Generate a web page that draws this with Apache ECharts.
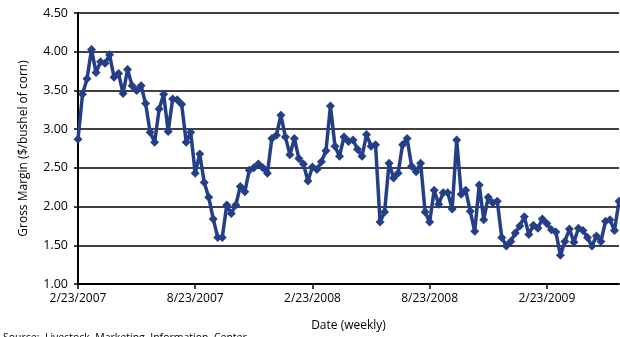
<!DOCTYPE html>
<html>
<head>
<meta charset="utf-8">
<script src="https://cdn.jsdelivr.net/npm/echarts@6/dist/echarts.min.js"></script>
<style>
  html, body { margin: 0; padding: 0; background: #fff; }
  #chart { width: 620px; height: 337px; }
</style>
</head>
<body>
<div id="chart"></div>
<script>
// Weekly gross margin, $/bushel of corn, starting 2/23/2007
const startDate = new Date(2007, 1, 23);
const weekCount = 121;

const grossMargin = [
  2.87, 3.45, 3.65, 4.03, 3.73, 3.87, 3.85, 3.96, 3.67, 3.72,
  3.46, 3.77, 3.56, 3.50, 3.56, 3.33, 2.96, 2.83, 3.26, 3.45,
  2.97, 3.39, 3.38, 3.32, 2.83, 2.96, 2.43, 2.68, 2.31, 2.12,
  1.84, 1.60, 1.60, 2.02, 1.91, 2.02, 2.26, 2.19, 2.47, 2.50,
  2.55, 2.50, 2.43, 2.88, 2.92, 3.18, 2.90, 2.67, 2.88, 2.62,
  2.55, 2.33, 2.51, 2.48, 2.58, 2.72, 3.30, 2.78, 2.65, 2.90,
  2.84, 2.86, 2.74, 2.65, 2.93, 2.78, 2.80, 1.80, 1.93, 2.56,
  2.37, 2.43, 2.80, 2.88, 2.52, 2.45, 2.56, 1.93, 1.80, 2.21,
  2.03, 2.18, 2.18, 1.97, 2.86, 2.16, 2.21, 1.94, 1.68, 2.28,
  1.83, 2.12, 2.05, 2.07, 1.60, 1.49, 1.55, 1.66, 1.75, 1.87,
  1.64, 1.76, 1.72, 1.84, 1.78, 1.70, 1.67, 1.37, 1.55, 1.71,
  1.54, 1.72, 1.69, 1.60, 1.49, 1.62, 1.55, 1.81, 1.83, 1.69,
  2.07
];

// Date labels shown every 26 weeks along the bottom axis
const tickLabels = ['2/23/2007', '8/23/2007', '2/23/2008', '8/23/2008', '2/23/2009'];
const labelStep = 26;

// Category list: one entry per week
const weeks = [];
for (let i = 0; i < weekCount; i++) {
  const d = new Date(startDate.getTime() + i * 7 * 86400000);
  weeks.push((d.getMonth() + 1) + '/' + d.getDate() + '/' + d.getFullYear());
}

const fontFamily = '"Open Sans", "Noto Sans", sans-serif';
const lineColor = '#243F87';

const chart = echarts.init(document.getElementById('chart'), null, { renderer: 'canvas' });

chart.setOption({
  animation: false,
  backgroundColor: '#ffffff',
  grid: { left: 78, right: 1, top: 13, bottom: 51, containLabel: false },
  xAxis: {
    type: 'category',
    data: weeks,
    boundaryGap: false,
    name: 'Date (weekly)',
    nameLocation: 'middle',
    nameGap: 36,
    nameTextStyle: { fontFamily: fontFamily, fontSize: 12, color: '#000' },
    axisLine: { lineStyle: { color: '#000', width: 2 } },
    axisTick: {
      show: true, inside: false, length: 5, interval: labelStep - 1,
      lineStyle: { color: '#000', width: 1.5 }
    },
    axisLabel: {
      interval: labelStep - 1,
      margin: 9,
      fontFamily: fontFamily, fontSize: 12, color: '#000',
      formatter: function (value, index) {
        return tickLabels[Math.round(index / labelStep)] || '';
      }
    },
    splitLine: { show: false }
  },
  yAxis: {
    type: 'value',
    min: 1, max: 4.5, interval: 0.5,
    name: 'Gross Margin ($/bushel of corn)',
    nameLocation: 'middle',
    nameGap: 48,
    nameRotate: 90,
    nameTextStyle: { fontFamily: fontFamily, fontSize: 12, color: '#000' },
    axisLine: { show: true, lineStyle: { color: '#000', width: 2 } },
    axisTick: { show: true, inside: false, length: 4, lineStyle: { color: '#000', width: 1.5 } },
    axisLabel: {
      margin: 10,
      fontFamily: fontFamily, fontSize: 12.5, color: '#000',
      formatter: function (v) { return v.toFixed(2); }
    },
    splitLine: { show: true, lineStyle: { color: '#000', width: 1.5 } }
  },
  graphic: [{
    type: 'text',
    left: 3,
    top: 333,
    style: {
      text: 'Source:  Livestock  Marketing  Information  Center',
      font: '10.5px ' + fontFamily,
      fill: '#000'
    }
  }],
  series: [{
    type: 'line',
    data: grossMargin,
    symbol: 'diamond',
    symbolSize: 9,
    showAllSymbol: true,
    clip: false,
    lineStyle: { color: lineColor, width: 3.5 },
    itemStyle: { color: lineColor }
  }]
});
</script>
</body>
</html>
